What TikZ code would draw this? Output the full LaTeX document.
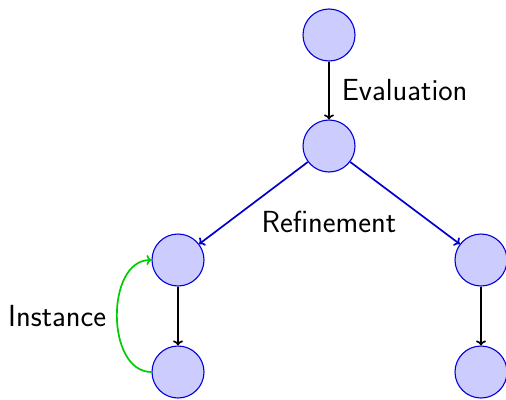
\documentclass[tikz,border=0pt]{standalone}
\usetikzlibrary{arrows.meta}
\begin{document}
\begin{tikzpicture}[x=1pt,y=-1pt,
  state/.style={circle,draw=blue!85!black,fill=blue!20,line width=1.1pt,minimum size=52pt,inner sep=0pt},
  lbl/.style={font=\fontsize{30.5}{36}\selectfont\sffamily,text=black,inner sep=10pt},
  arr/.style={line width=1.7pt,-{To[length=5pt,width=10pt]}},
]
\useasboundingbox (0,0) rectangle (506,399);
\node[state] (t) at (329,35) {};
\node[state] (m) at (329,146) {};
\node[state] (l) at (178,260) {};
\node[state] (lb) at (178,372) {};
\node[state] (r) at (481,260) {};
\node[state] (rb) at (481,372) {};
\draw[arr,black] (t) -- node[lbl,right,inner sep=0pt,xshift=12pt] {Evaluation} (m);
\draw[arr,blue!80!black] (m) -- (l);
\draw[arr,blue!80!black] (m) -- (r);
\node[lbl,inner sep=0pt,anchor=base] (ref) at (329,232) {Refinement};
\draw[arr,black] (l) -- (lb);
\draw[arr,black] (r) -- (rb);
\draw[arr,green!80!black] (lb.west) to[out=180,in=180,looseness=1.05] node[lbl,left,inner sep=0pt,xshift=-10pt] {Instance} (l.west);
\end{tikzpicture}
\end{document}
